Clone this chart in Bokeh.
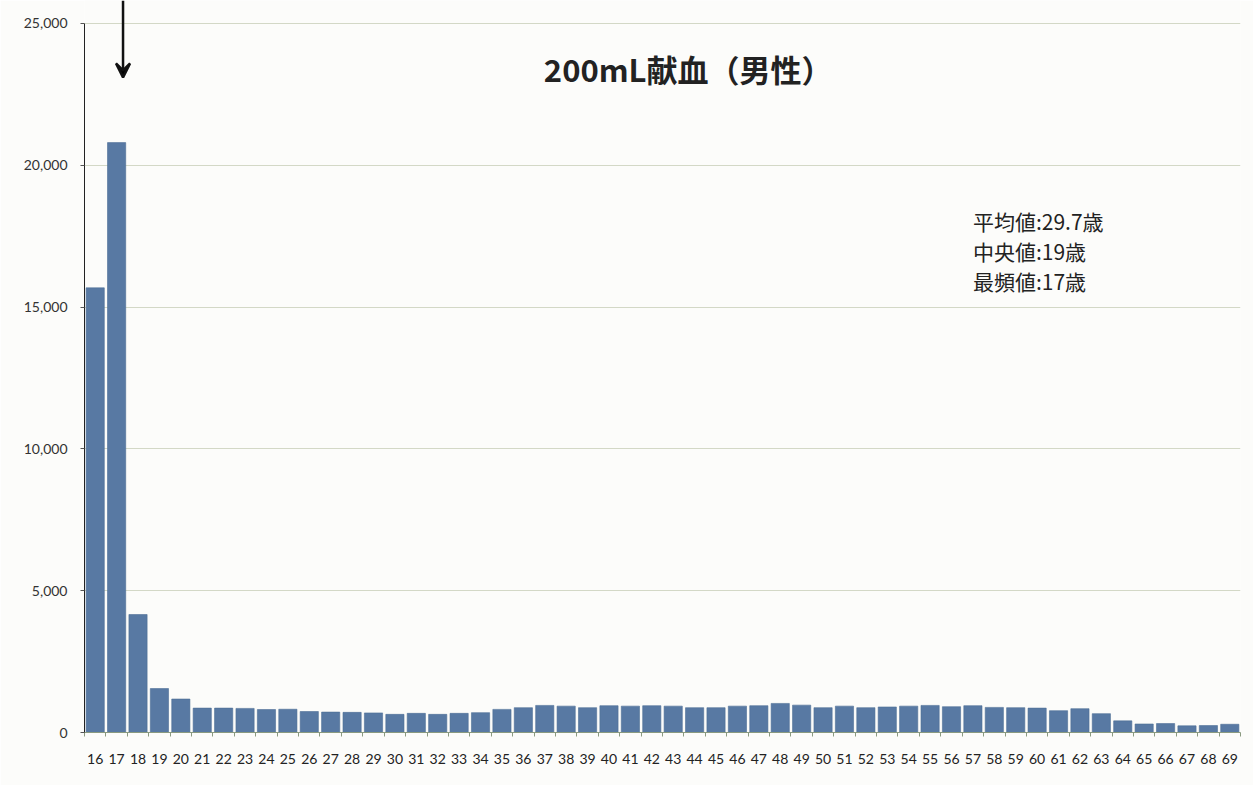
from bokeh.plotting import figure
from bokeh.models import ColumnDataSource, FixedTicker, NumeralTickFormatter, Range1d, Arrow, VeeHead
from bokeh.core.properties import value
from bokeh.embed import file_html
from bokeh.resources import INLINE

ages = list(range(16, 70))
counts = [15680, 20800, 4160, 1550, 1180, 860, 860, 850, 810, 820,
          740, 720, 710, 690, 640, 675, 640, 675, 700, 815,
          875, 955, 930, 875, 945, 930, 945, 930, 875, 875,
          930, 945, 1025, 965, 875, 930, 875, 900, 930, 955,
          910, 945, 885, 875, 860, 770, 840, 665, 410, 300,
          315, 235, 245, 290]
y_ticks = [0, 5000, 10000, 15000, 20000, 25000]
y_max = 25000
title_text = "200mL献血（男性）"
stats_lines = ["平均値:29.7歳", "中央値:19歳", "最頻値:17歳"]
mode_age = 17

src = ColumnDataSource(dict(age=ages, count=counts))

p = figure(width=1253, height=785, output_backend="svg", toolbar_location=None,
           x_range=Range1d(ages[0] - 0.5, ages[-1] + 0.5), y_range=Range1d(0, 25811),
           min_border_left=84, min_border_right=13, min_border_top=0, min_border_bottom=53)
p.background_fill_color = "#fcfcfa"
p.border_fill_color = "#fcfcfa"
p.outline_line_color = None

p.vbar(x="age", top="count", width=0.85, source=src, fill_color="#5879a3", line_color="#4d6e96", line_width=0.6)

# axes
p.xaxis.ticker = FixedTicker(ticks=ages, minor_ticks=[a - 0.5 for a in ages] + [ages[-1] + 0.5])
p.xaxis.major_tick_out = 0
p.xaxis.major_tick_in = 0
p.xaxis.minor_tick_out = 4
p.xaxis.minor_tick_in = 0
p.xaxis.axis_line_color = "#8a9a80"
p.xaxis.minor_tick_line_color = "#8a9a80"
p.xaxis.major_label_standoff = 17
p.xaxis.major_label_text_font = "Lato"
p.xaxis.major_label_text_font_size = "14px"
p.xaxis.major_label_text_color = "#222222"

p.yaxis.ticker = FixedTicker(ticks=y_ticks)
p.yaxis.bounds = (0, y_max)
p.yaxis.formatter = NumeralTickFormatter(format="0,0")
p.yaxis.major_tick_out = 4
p.yaxis.major_tick_in = 0
p.yaxis.minor_tick_line_color = None
p.yaxis.axis_line_color = "#222222"
p.yaxis.major_tick_line_color = "#555555"
p.yaxis.major_label_standoff = 13
p.yaxis.major_label_text_font = "Lato"
p.yaxis.major_label_text_font_size = "14px"
p.yaxis.major_label_text_color = "#333333"

p.xgrid.grid_line_color = None
p.ygrid.grid_line_color = "#d3d8c6"
p.ygrid.grid_line_width = 1

# title inside plot
p.text(x=[43.7], y=[23430], text=[title_text], text_align="center", text_baseline="middle",
       text_font=value("Noto Sans CJK JP"), text_font_style="bold", text_font_size="31px",
       text_color="#222222")

# stats
p.text(x=[57.0] * 3, y=[18040, 16980, 15920], text=stats_lines, text_align="left",
       text_baseline="middle", text_font=value("Noto Sans CJK JP"), text_font_size="21px",
       text_color="#222222")

# arrow pointing to mode bar
p.add_layout(Arrow(x_start=mode_age + 0.3, y_start=25811, x_end=mode_age + 0.3, y_end=23100,
                   line_color="#111111", line_width=2.5,
                   end=VeeHead(size=14, line_color="#111111", line_width=2.5)))

open("out.html", "w").write(file_html(p, INLINE))
